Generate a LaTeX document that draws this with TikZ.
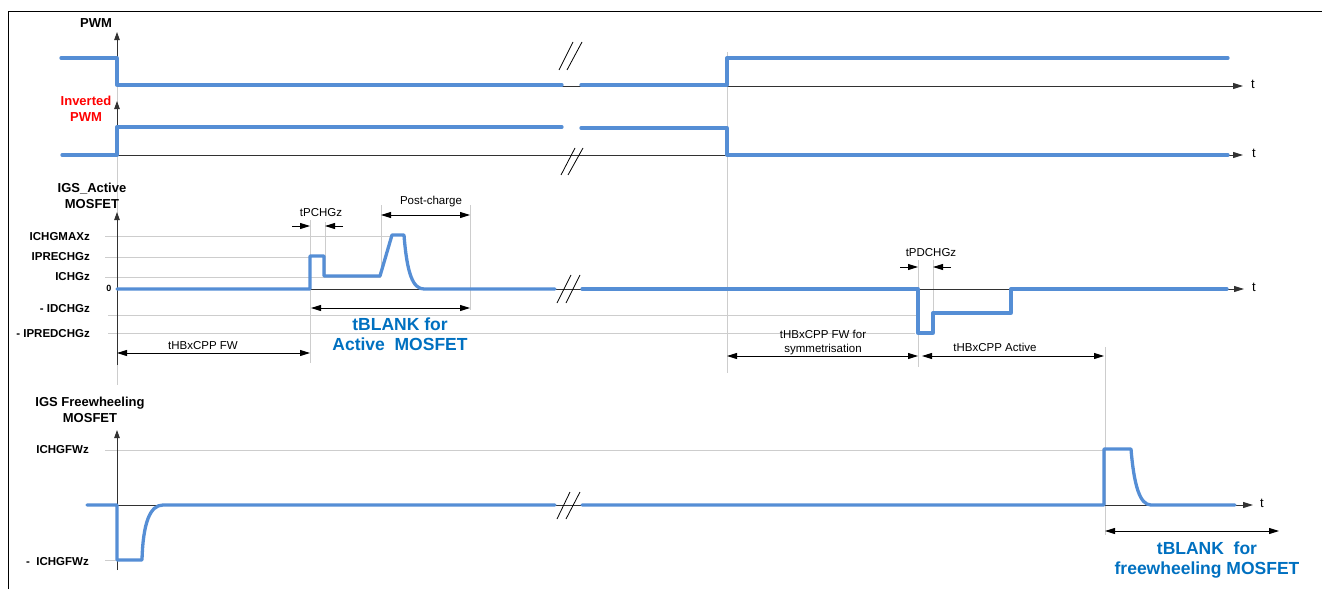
\documentclass[tikz,border=0pt]{standalone}
\usepackage{fontspec}
\setmainfont{Liberation Sans}
\usetikzlibrary{arrows.meta}
\definecolor{sigblue}{RGB}{85,142,213}
\definecolor{txtblue}{RGB}{0,112,192}
\definecolor{guidegray}{RGB}{205,205,205}
\definecolor{axgray}{RGB}{50,50,50}
\tikzset{
  sig/.style={line width=3.3pt, color=sigblue, line cap=round, line join=round},
  guide/.style={line width=1pt, color=guidegray},
  yaxis/.style={line width=0.9pt, color=axgray, -{Triangle[length=8pt,width=5.5pt]}},
  taxis/.style={line width=0.9pt, color=axgray, -{Triangle[length=10pt,width=6pt]}},
  dimarrow/.style={line width=0.9pt, black, {Triangle[length=10pt,width=6pt]}-{Triangle[length=10pt,width=6pt]}},
  halfarrow/.style={line width=0.9pt, black, -{Triangle[length=10pt,width=6pt]}},
  brk/.style={line width=0.8pt, black},
  title/.style={font=\fontsize{13}{16}\selectfont\bfseries, align=center, inner sep=0pt},
  lvl/.style={font=\fontsize{11.5}{13}\selectfont\bfseries, anchor=east, inner sep=0pt},
  small/.style={font=\fontsize{11.5}{14.5}\selectfont, align=center, inner sep=0pt},
  tlab/.style={font=\fontsize{13}{14}\selectfont, inner sep=0pt},
  big/.style={font=\fontsize{17.5}{20}\selectfont\bfseries, color=txtblue, align=center, inner sep=0pt}
}
\begin{document}
\begin{tikzpicture}[x=1pt,y=-1pt]
\useasboundingbox (0,0) rectangle (1322,589);
% frame
\draw[line width=1pt] (8,589) -- (8,11) -- (1322,11);

% guides (vertical)
\draw[guide] (117,86) -- (117,385);
\draw[guide] (727,52) -- (727,373);
\draw[guide] (310,220) -- (310,363);
\draw[guide] (325,222) -- (325,277);
\draw[guide] (381,205) -- (381,276);
\draw[guide] (470,205) -- (470,310);
\draw[guide] (918,260) -- (918,367);
\draw[guide] (933,260) -- (933,313);
\draw[guide] (1105,347) -- (1105,535);

% ================= PWM
\node[title] (pwm) at (96,23) {PWM};
\draw[yaxis] (117,86) -- (117,32);
\draw[taxis] (117,86) -- (1243,86);
\node[tlab] (t1) at (1253,84) {t};
\draw[sig] (61,58) -- (117,58) -- (117,85) -- (562,85);
\draw[sig] (581,85) -- (727,85) -- (727,58) -- (1228,58);
\draw[brk] (559,70) -- (573,42);
\draw[brk] (567,70) -- (582,42);

% ================= Inverted PWM
\node[title, text=red] (ipwm) at (86,108.5) {Inverted\\PWM};
\draw[yaxis] (117,155) -- (117,101);
\draw[taxis] (117,155) -- (1243,155);
\node[tlab] (t2) at (1254,153) {t};
\draw[sig] (62,155) -- (117,155) -- (117,127) -- (562,127);
\draw[sig] (581,128) -- (727,128) -- (727,155) -- (1228,155);
\draw[brk] (561,175) -- (575,148);
\draw[brk] (568,175) -- (583,148);

% ================= IGS Active
\node[title] (igsa) at (92,196) {IGS\_Active\\MOSFET};
\draw[guide] (105,236) -- (390,236);
\draw[guide] (105,257) -- (311,257);
\draw[guide] (105,277) -- (381,277);
\draw[guide] (108,315) -- (918,315);
\draw[guide] (108,333) -- (915,333);
\draw[yaxis] (117,365) -- (117,212);
\node[lvl] (lmax) at (90,237) {ICHGMAXz};
\node[lvl] (lpre) at (90,257) {IPRECHGz};
\node[lvl] (lchg) at (90,277) {ICHGz};
\node[font=\fontsize{9}{10}\selectfont\bfseries, inner sep=0pt] (lzero) at (109,288) {0};
\node[lvl] (ldch) at (90,309) {- IDCHGz};
\node[lvl] (lpdch) at (90,334) {- IPREDCHGz};
\draw[taxis] (117,289) -- (1244,289);
\node[tlab] (t3) at (1254,287) {t};
\draw[sig] (117,289) -- (310,289) -- (310,256) -- (324,256) -- (324,276) -- (380,276)
  -- (392,235) -- (404,235) .. controls (407,274) and (413,289) .. (424,289) -- (555,289);
\draw[sig] (582,289) -- (918,289) -- (918,333) -- (933,333) -- (933,313) -- (1011,313)
  -- (1011,289) -- (1227,289);
\draw[brk] (557,303) -- (571,275);
\draw[brk] (566,303) -- (580,275);

% dimensions active
\node[small] (tpchg) at (321,213) {tPCHGz};
\draw[halfarrow] (292,226) -- (310,226);
\draw[halfarrow] (343,226) -- (325,226);
\node[small] (post) at (431,202) {Post-charge};
\draw[dimarrow] (381,215) -- (470,215);
\draw[dimarrow] (311,308) -- (470,308);
\node[big] (tbla) at (400,334) {tBLANK for\\Active\ \ MOSFET};
\node[small] (thfw) at (203,346) {tHBxCPP FW};
\draw[dimarrow] (117,353) -- (310,353);
\node[small] (tpdchg) at (931,253) {tPDCHGz};
\draw[halfarrow] (900,267) -- (918,267);
\draw[halfarrow] (951,267) -- (933,267);
\node[small] (thsym) at (823,342.5) {tHBxCPP FW for\\symmetrisation};
\draw[dimarrow] (727,356) -- (918,356);
\node[small] (thact) at (995,347) {tHBxCPP Active};
\draw[dimarrow] (922,356) -- (1104,356);

% ================= IGS Freewheeling
\node[title] (igsf) at (90,409.5) {IGS Freewheeling\\MOSFET};
\draw[guide] (105,450) -- (1104,450);
\draw[guide] (105,560) -- (117,560);
\draw[yaxis] (117,570) -- (117,430);
\node[lvl] (lfw) at (89,450) {ICHGFWz};
\node[lvl] (lnfw) at (89,562) {-\ \ ICHGFWz};
\draw[taxis] (117,505) -- (1253,505);
\node[tlab] (t4) at (1262,503) {t};
\draw[sig] (87,505) -- (117,505) -- (117,560) -- (142,560)
  .. controls (143,523) and (150,505) .. (163,505) -- (555,505);
\draw[sig] (582,505) -- (1104,505) -- (1104,449) -- (1131,449)
  .. controls (1134,486) and (1140,505) .. (1151,505) -- (1235,505);
\draw[brk] (557,519) -- (570,492);
\draw[brk] (566,519) -- (580,492);
\draw[dimarrow] (1105,531) -- (1279,531);
\node[big] (tblf) at (1207,560) {tBLANK\ \ for\\freewheeling MOSFET};
\end{tikzpicture}
\end{document}
